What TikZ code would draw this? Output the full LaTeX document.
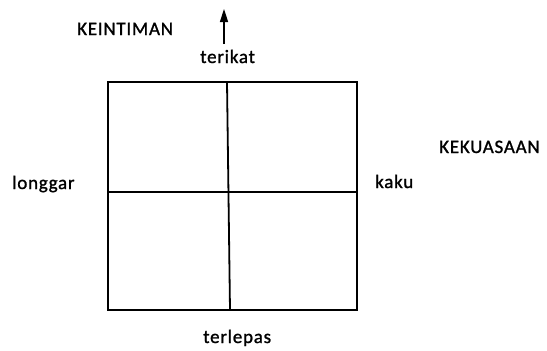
\documentclass[tikz,border=0pt]{standalone}
\usepackage{fontspec}
\setmainfont{Carlito}[LetterSpace=4,FakeBold=1.2]
\usetikzlibrary{arrows.meta}
\begin{document}
\begin{tikzpicture}[x=1bp,y=-1bp,
  lbl/.style={inner sep=0pt,anchor=base west,font=\fontsize{19bp}{22bp}\selectfont},
  frame/.style={draw=black,line width=1.3bp},
  cross/.style={draw=black,line width=1.8bp},
  uparrow/.style={draw=black,line width=1.6bp,-{Triangle[length=13bp,width=8bp]}}]
\useasboundingbox (0,0) rectangle (547,350);
\fill[white] (0,0) rectangle (547,350);
% frame
\coordinate (tl) at (108,82);
\coordinate (br) at (357,310);
\draw[frame] (tl) rectangle (br);
% cross
\coordinate (vt) at (227,82);
\coordinate (vb) at (230,310);
\coordinate (hl) at (108,192);
\coordinate (hr) at (357,192);
\draw[cross] (vt) -- (vb);
\draw[cross] (hl) -- (hr);
% arrow
\coordinate (as) at (224,44);
\coordinate (ae) at (224,9);
\draw[uparrow] (as) -- (ae);
% labels
\node[lbl] (keintiman) at (77,35) {KEINTIMAN};
\node[lbl] (terikat) at (200,63) {terikat};
\node[lbl] (longgar) at (12,189) {longgar};
\node[lbl] (kaku) at (375,188) {kaku};
\node[lbl] (kekuasaan) at (439,153) {KEKUASAAN};
\node[lbl] (terlepas) at (203,343) {terlepas};
\end{tikzpicture}
\end{document}
